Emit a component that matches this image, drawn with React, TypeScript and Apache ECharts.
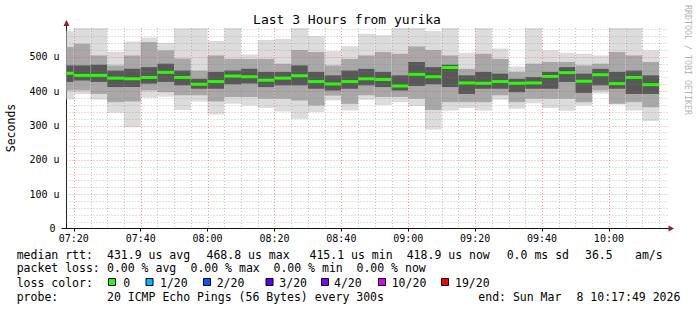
import React, { useEffect, useRef } from 'react';
import * as echarts from 'echarts';

// ---- data (values in microseconds) ----
const binStarts = ['07:15','07:20','07:25','07:30','07:35','07:40','07:45','07:50','07:55','08:00','08:05','08:10','08:15','08:20','08:25','08:30','08:35','08:40','08:45','08:50','08:55','09:00','09:05','09:10','09:15','09:20','09:25','09:30','09:35','09:40','09:45','09:50','09:55','10:00','10:05','10:10'];
const smokeMax = [575,600,600,515,545,556,541,583,600,546,600,507,549,552,600,561,517,531,567,563,600,600,575,600,512,600,524,472,600,519,512,509,504,600,600,519];
const smokeP90 = [529,538,504,475,504,543,519,495,460,504,494,494,494,480,520,514,475,494,504,514,509,530,520,504,465,509,494,456,480,485,485,475,480,514,504,485];
const smokeP75 = [475,475,477,460,465,470,480,460,436,456,460,465,456,456,475,456,446,460,465,456,446,485,470,477,446,456,451,436,441,456,470,451,465,456,460,446];
const medianRtt = [452,446,446,438,436,440,455,440,420,428,444,442,432,438,445,428,421,428,436,434,415,449,442,469,424,423,428,423,424,443,454,429,448,422,440,419];
const smokeP25 = [427,431,427,412,412,422,427,417,407,407,420,422,412,417,417,407,402,407,417,412,402,415,420,412,392,407,407,397,407,407,427,395,417,407,392,392];
const smokeP10 = [402,402,392,368,370,402,397,388,388,370,383,383,378,378,373,358,387,363,388,383,383,378,345,368,368,368,388,368,378,378,378,368,402,363,368,353];
const smokeMin = [376,392,376,337,295,381,384,345,370,332,363,358,351,341,320,339,373,344,375,360,368,357,288,344,351,344,375,349,365,351,343,358,393,361,344,313];

const stepMinutes = 5; // 300s probe step
const rangeStart = '07:17:49';
const rangeEnd = '10:17:49';
const xTickLabels = ['07:20','07:40','08:00','08:20','08:40','09:00','09:20','09:40','10:00'];
const yTickValues = [0, 100, 200, 300, 400, 500];
const yTickLabels = ['0', '100 u', '200 u', '300 u', '400 u', '500 u'];
const yMax = 584;

const lossColors = ['#26ff00', '#00b8ff', '#0059ff', '#5e00ff', '#7e00ff', '#dd00ff', '#ff0000'];
const lossLabels = ['0', '1/20', '2/20', '3/20', '4/20', '10/20', '19/20'];

const toMin = (s: string) => {
  const p = s.split(':').map(Number);
  return (p[0] - 7) * 60 + p[1] + (p[2] || 0) / 60;
};

const FONT = '"DejaVu Sans Mono", monospace';

export default function App() {
  const ref = useRef<HTMLDivElement>(null);
  useEffect(() => {
    if (!ref.current) return;
    const chart = echarts.init(ref.current, undefined, { renderer: 'svg' });

    const smokeData = binStarts.map((s, i) => {
      const st = toMin(s);
      return [st, st + stepMinutes, smokeMin[i], smokeP10[i], smokeP25[i], medianRtt[i], smokeP75[i], smokeP90[i], smokeMax[i]];
    });

    const xMin = toMin(rangeStart);
    const xMax = toMin(rangeEnd);
    const xTickValues = xTickLabels.map((l) => toMin(l));

    // grid line positions
    const gridData: number[][] = [];
    for (let m = 20; m <= 195; m += 5) gridData.push([0, m, m % 20 === 0 ? 1 : 0]);
    for (let v = 20; v <= 580; v += 20) gridData.push([1, v, v % 100 === 0 ? 1 : 0]);

    const txt = (text: string, x: number, y: number, extra: any = {}) => ({
      type: 'text',
      x,
      y,
      silent: true,
      style: {
        text,
        fill: '#000',
        font: `11.5px ${FONT}`,
        textAlign: 'left',
        textVerticalAlign: 'middle',
        align: 'left',
        verticalAlign: 'middle',
        ...extra,
      },
    });

    const graphics: any[] = [
      // title
      txt('Last 3 Hours from yurika', 347, 19.5, { font: `13px ${FONT}`, textAlign: 'center', align: 'center' }),
      // y-axis name
      { ...txt('Seconds', 11, 128, { textAlign: 'center', align: 'center' }), rotation: Math.PI / 2 },
      // watermark
      { ...txt('RRDTOOL / TOBI OETIKER', 687.5, 60, { font: `8.3px ${FONT}`, fill: '#b4b4b4', textAlign: 'center', align: 'center' }), rotation: -Math.PI / 2 },
      // axis lines
      { type: 'line', silent: true, shape: { x1: 61.5, y1: 228.5, x2: 669, y2: 228.5 }, style: { stroke: '#111', lineWidth: 1 } },
      { type: 'line', silent: true, shape: { x1: 66.5, y1: 228.5, x2: 66.5, y2: 25 }, style: { stroke: '#222', lineWidth: 1 } },
      { type: 'polygon', silent: true, shape: { points: [[66.5, 20], [63.5, 26], [69.5, 26]] }, style: { fill: '#9b1c1c' } },
      { type: 'polygon', silent: true, shape: { points: [[674, 228.5], [668.5, 225.5], [668.5, 231.5]] }, style: { fill: '#9b1c1c' } },
      // legend line 1
      txt('median rtt:', 16.7, 255),
      txt('431.9 us avg', 107, 255),
      txt('468.8 us max', 206.5, 255),
      txt('415.1 us min', 309.5, 255),
      txt('418.9 us now', 406.7, 255),
      txt('0.0 ms sd', 506.7, 255),
      txt('36.5', 585, 255),
      txt('am/s', 635, 255),
      // legend line 2
      txt('packet loss:', 16.7, 268),
      txt('0.00 % avg', 107, 268),
      txt('0.00 % max', 190.5, 268),
      txt('0.00 % min', 273.5, 268),
      txt('0.00 % now', 356.5, 268),
      // legend line 3
      txt('loss color:', 16.7, 282.5),
      // legend line 4
      txt('probe:', 16.7, 296.7),
      txt('20 ICMP Echo Pings (56 Bytes) every 300s', 107, 296.7),
      txt('end: Sun Mar', 478.3, 296.7),
      txt('8 10:17:49 2026', 576.5, 296.7),
    ];
    const sqX = [108.5, 146, 203.5, 266, 321.5, 378.5, 441.5];
    const lblX = [123.3, 160, 216.7, 279.3, 334, 391.7, 455];
    lossColors.forEach((c, i) => {
      graphics.push({ type: 'rect', silent: true, shape: { x: sqX[i], y: 278.5, width: 7, height: 7 }, style: { fill: c, stroke: '#000', lineWidth: 1 } });
      graphics.push(txt(lossLabels[i], lblX[i], 282.5));
    });

    chart.setOption({
      animation: false,
      backgroundColor: '#ffffff',
      grid: { left: 66.5, right: 28.5, top: 28, bottom: 81.5, containLabel: false },
      xAxis: {
        type: 'value',
        min: xMin,
        max: xMax,
        axisLine: { show: false },
        splitLine: { show: false },
        axisTick: { show: true, customValues: xTickValues, length: 3, lineStyle: { color: '#000' } },
        axisLabel: {
          customValues: xTickValues,
          formatter: (v: number) => {
            const idx = xTickValues.findIndex((t) => Math.abs(t - v) < 0.01);
            return idx >= 0 ? xTickLabels[idx] : '';
          },
          fontFamily: 'DejaVu Sans Mono',
          fontSize: 10,
          color: '#000',
          margin: 5,
        },
      },
      yAxis: {
        type: 'value',
        min: 0,
        max: yMax,
        interval: 100,
        axisLine: { show: false },
        axisTick: { show: false },
        splitLine: { show: false },
        axisLabel: {
          fontFamily: 'DejaVu Sans Mono',
          fontSize: 10,
          color: '#000',
          margin: 7,
          formatter: (v: number) => {
            const idx = yTickValues.indexOf(v);
            if (idx < 0) return '';
            return idx === 0 ? '{z|' + yTickLabels[idx] + '}' : yTickLabels[idx];
          },
          rich: { z: { fontFamily: 'DejaVu Sans Mono', fontSize: 10, color: '#000', padding: [0, 4, 0, 0] } },
        },
      },
      graphic: graphics,
      series: [
        {
          type: 'custom',
          z: 2,
          data: smokeData,
          encode: { x: [0, 1], y: [2, 3, 4, 5, 6, 7, 8] },
          renderItem: (params: any, api: any) => {
            const cs = params.coordSys;
            const x0 = Math.max(api.coord([api.value(0), 0])[0], cs.x);
            const x1 = Math.min(api.coord([api.value(1), 0])[0], cs.x + cs.width);
            const yOf = (v: number) => Math.max(api.coord([xMin, v])[1], cs.y);
            const band = (lo: number, hi: number, fill: string) => ({
              type: 'rect',
              shape: { x: x0, y: yOf(hi), width: x1 - x0, height: yOf(lo) - yOf(hi) },
              style: { fill },
            });
            const med = yOf(api.value(5));
            return {
              type: 'group',
              children: [
                band(api.value(2), api.value(8), '#dcdcdc'),
                band(api.value(3), api.value(7), '#a8a8a8'),
                band(api.value(4), api.value(6), '#585858'),
                { type: 'rect', shape: { x: x0, y: med - 1.5, width: x1 - x0, height: 3 }, style: { fill: '#26ff00' } },
              ],
            };
          },
        },
        {
          type: 'custom',
          z: 3,
          silent: true,
          data: gridData,
          renderItem: (params: any, api: any) => {
            const cs = params.coordSys;
            const kind = api.value(0);
            const val = api.value(1);
            const major = api.value(2) === 1;
            const stroke = major ? 'rgba(235,60,60,0.5)' : 'rgba(130,130,130,0.45)';
            let shape;
            if (kind === 0) {
              const x = Math.round(api.coord([val, 0])[0]) + 0.5;
              shape = { x1: x, y1: cs.y, x2: x, y2: cs.y + cs.height };
            } else {
              const y = Math.round(api.coord([xMin, val])[1]) + 0.5;
              shape = { x1: cs.x, y1: y, x2: cs.x + cs.width, y2: y };
            }
            return { type: 'line', shape, style: { stroke, lineWidth: 1, lineDash: [1, 2] } };
          },
        },
      ],
    });
    return () => chart.dispose();
  }, []);
  return <div ref={ref} style={{ position: 'fixed', left: 0, top: 0, width: 697, height: 310, background: '#fff' }} />;
}
